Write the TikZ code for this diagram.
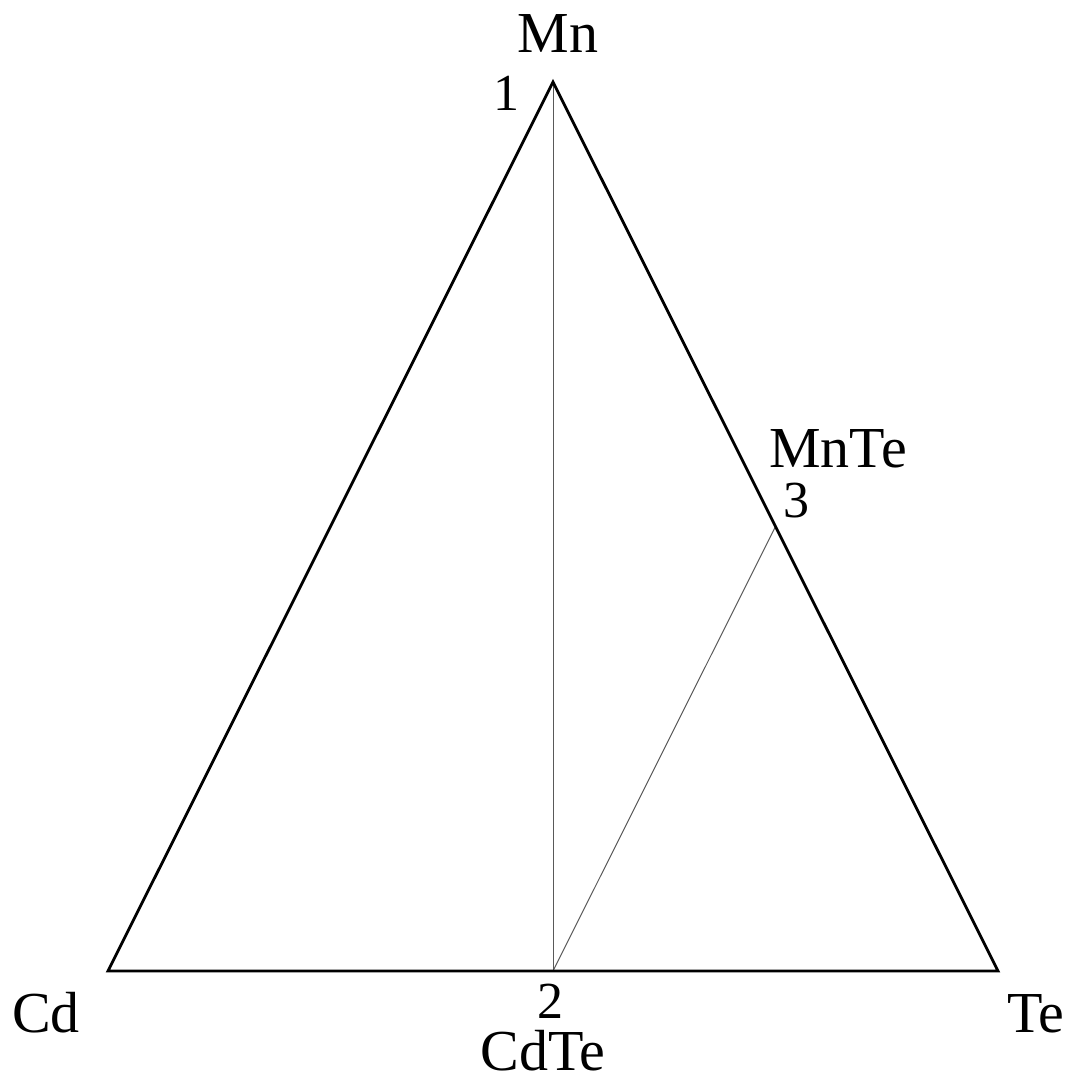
\documentclass[tikz,border=0pt]{standalone}
\usepackage{fontspec}
\setmainfont{Liberation Serif}
\usetikzlibrary{calc}
\begin{document}
\begin{tikzpicture}[x=1pt,y=-1pt,
  edge/.style={line width=2.8pt, line join=miter},
  tie/.style={line width=1pt, draw=black!65},
  lab/.style={anchor=base, inner sep=0pt, text depth=0pt, font=\fontsize{58}{58}\selectfont},
  num/.style={anchor=base, inner sep=0pt, text depth=0pt, font=\fontsize{52}{52}\selectfont}]
\useasboundingbox (0,0) rectangle (1077,1079);
\coordinate (Mn) at (553,82);
\coordinate (Cd) at (108,971);
\coordinate (Te) at (998,971);
\coordinate (P2) at (553,971);
\coordinate (P3) at ($(Mn)!0.5!(Te)$);
\draw[tie] (Mn) -- (P2);
\draw[tie] (P2) -- (P3);
\draw[edge] (Cd) -- (Mn) -- (Te) -- cycle;
\node[lab] (lMn) at (558,52) {Mn};
\node[num] (l1) at (506,110) {1};
\node[lab] (lMnTe) at (838,467) {MnTe};
\node[num] (l3) at (796,517) {3};
\node[lab] (lCd) at (46,1032) {Cd};
\node[num] (l2) at (550,1018) {2};
\node[lab] (lCdTe) at (543,1070) {CdTe};
\node[lab] (lTe) at (1036,1032) {Te};
\end{tikzpicture}
\end{document}
